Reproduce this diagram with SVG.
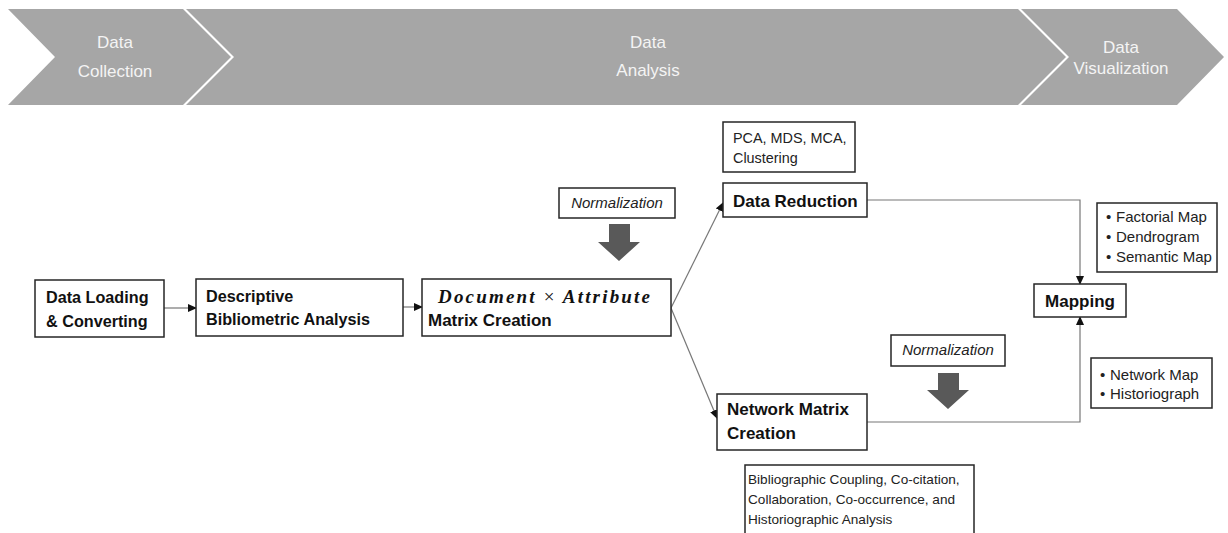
<svg xmlns="http://www.w3.org/2000/svg" width="1228" height="533" viewBox="0 0 1228 533">
<style>
.band{fill:#a6a6a6}
.bt{font-family:"Liberation Sans",Arial,sans-serif;font-size:17px;fill:#f4f4f4;text-anchor:middle}
.box{fill:#fff;stroke:#262626;stroke-width:1.5}
.b{font-family:"Liberation Sans",Arial,sans-serif;font-weight:bold;font-size:16.2px;fill:#111}
.b17{font-family:"Liberation Sans",Arial,sans-serif;font-weight:bold;font-size:17px;fill:#111}
.r{font-family:"Liberation Sans",Arial,sans-serif;font-size:14.4px;fill:#222}
.r13{font-family:"Liberation Sans",Arial,sans-serif;font-size:13.6px;fill:#222}
.r15{font-family:"Liberation Sans",Arial,sans-serif;font-size:15px;fill:#222}
.it{font-family:"Liberation Sans",Arial,sans-serif;font-style:italic;font-size:15px;fill:#222;text-anchor:middle}
.math{font-family:"Liberation Serif","Times New Roman",serif;font-style:italic;font-weight:bold;font-size:19px;fill:#111}
.big{fill:#595959}
.conn{fill:none;stroke:#777;stroke-width:1.2}
</style>
<defs>
<marker id="ah" markerWidth="9" markerHeight="8" refX="8" refY="4" orient="auto" markerUnits="userSpaceOnUse">
<path d="M0,0 L9,4 L0,8 Z" fill="#111"/>
</marker>
</defs>
<g id="banner">
<polygon class="band" points="8,9 183,9 231,57 183,105 8,105 55,57"/>
<polygon class="band" points="186,9 1018,9 1066,57 1018,105 186,105 234,57"/>
<polygon class="band" points="1021,9 1177,9 1224,57 1177,105 1021,105 1069,57"/>
<text class="bt" x="115" y="48">Data</text>
<text class="bt" x="115" y="77">Collection</text>
<text class="bt" x="648" y="48">Data</text>
<text class="bt" x="648" y="76">Analysis</text>
<text class="bt" x="1121" y="53">Data</text>
<text class="bt" x="1121" y="74">Visualization</text>
</g>
<g id="connectors">
<line class="conn" x1="164" y1="308" x2="196" y2="308" marker-end="url(#ah)"/>
<line class="conn" x1="403" y1="307" x2="422" y2="307" marker-end="url(#ah)"/>
<line class="conn" x1="671" y1="308" x2="723" y2="203" marker-end="url(#ah)"/>
<line class="conn" x1="671" y1="308" x2="717" y2="418" marker-end="url(#ah)"/>
<polyline class="conn" points="867,200 1080,200 1080,284" marker-end="url(#ah)"/>
<polyline class="conn" points="867,422 1080,422 1080,317" marker-end="url(#ah)"/>
</g>
<g id="n-loading">
<rect class="box" x="35" y="280" width="129" height="57"/>
<text class="b" x="46" y="303">Data Loading</text>
<text class="b" x="46" y="327">&amp; Converting</text>
</g>
<g id="n-descriptive">
<rect class="box" x="196" y="279" width="207" height="57"/>
<text class="b" x="206" y="302">Descriptive</text>
<text class="b" x="206" y="325">Bibliometric Analysis</text>
</g>
<g id="n-matrix">
<rect class="box" x="422" y="279" width="249" height="57"/>
<text class="math" x="438" y="303" textLength="212" lengthAdjust="spacing">Document <tspan font-weight="normal" font-style="normal">×</tspan> Attribute</text>
<text class="b17" x="428" y="326">Matrix Creation</text>
</g>
<g id="n-norm1">
<rect class="box" x="559" y="188" width="116" height="30"/>
<text class="it" x="617" y="208">Normalization</text>
</g>
<g id="n-bigarrow1">
<polygon class="big" points="609,224 630,224 630,242 640,242 619,261 598,242 609,242"/>
</g>
<g id="n-pca">
<rect class="box" x="723" y="122" width="132" height="50"/>
<text class="r" x="733" y="143">PCA, MDS, MCA,</text>
<text class="r" x="733" y="163">Clustering</text>
</g>
<g id="n-reduction">
<rect class="box" x="723" y="183" width="144" height="34"/>
<text class="b17" x="733" y="207">Data Reduction</text>
</g>
<g id="n-network">
<rect class="box" x="717" y="394" width="150" height="56"/>
<text class="b17" x="727" y="415">Network Matrix</text>
<text class="b17" x="727" y="439">Creation</text>
</g>
<g id="n-norm2">
<rect class="box" x="891" y="335" width="114" height="31"/>
<text class="it" x="948" y="355">Normalization</text>
</g>
<g id="n-bigarrow2">
<polygon class="big" points="938,373 959,373 959,390 969,390 948,409 927,390 938,390"/>
</g>
<g id="n-mapping">
<rect class="box" x="1034" y="284" width="92" height="33"/>
<text class="b17" x="1080" y="307" text-anchor="middle">Mapping</text>
</g>
<g id="n-factorial">
<rect class="box" x="1097" y="203" width="120" height="69"/>
<text class="r15" x="1106" y="222">•</text>
<text class="r15" x="1116" y="222">Factorial Map</text>
<text class="r15" x="1106" y="242">•</text>
<text class="r15" x="1116" y="242">Dendrogram</text>
<text class="r15" x="1106" y="262">•</text>
<text class="r15" x="1116" y="262">Semantic Map</text>
</g>
<g id="n-netmap">
<rect class="box" x="1091" y="358" width="121" height="50"/>
<text class="r15" x="1100" y="380">•</text>
<text class="r15" x="1110" y="380">Network Map</text>
<text class="r15" x="1100" y="399">•</text>
<text class="r15" x="1110" y="399">Historiograph</text>
</g>
<g id="n-biblio">
<rect class="box" x="745" y="465" width="229" height="80"/>
<text class="r13" x="748" y="484">Bibliographic Coupling, Co-citation,</text>
<text class="r13" x="748" y="504">Collaboration, Co-occurrence, and</text>
<text class="r13" x="748" y="524">Historiographic Analysis</text>
</g>
</svg>
